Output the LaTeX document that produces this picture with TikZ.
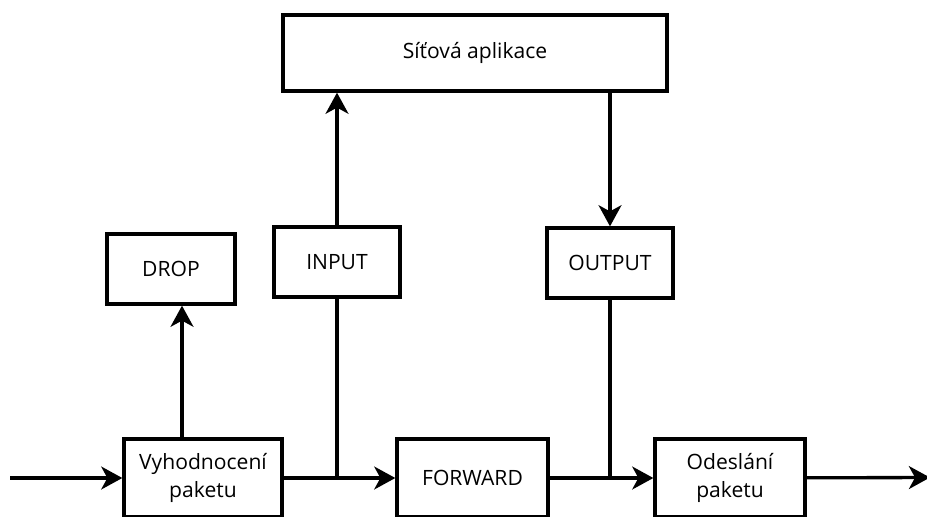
\documentclass[tikz,border=0pt]{standalone}
\usepackage{fontspec}
\setmainfont{Open Sans}
\usetikzlibrary{arrows.meta}

\begin{document}
\begin{tikzpicture}[>={Stealth[length=12pt,width=13pt,inset=3.5pt]}, line width=1.9pt,
  box/.style={draw, rectangle, align=center, inner sep=2pt, font=\fontsize{12}{15.5}\selectfont}]
\clip (0,0) rectangle (18.54,10.32);
\useasboundingbox (0,0) rectangle (18.54,10.32);

\node[box, minimum width=7.68cm, minimum height=1.52cm] (app) at (9.5,9.26) {Síťová aplikace};
\node[box, minimum width=2.56cm, minimum height=1.4cm] (drop) at (3.42,4.94) {DROP};
\node[box, minimum width=2.52cm, minimum height=1.4cm] (input) at (6.74,5.08) {INPUT};
\node[box, minimum width=2.52cm, minimum height=1.4cm] (output) at (12.2,5.06) {OUTPUT};

\node[box, minimum width=3.16cm, minimum height=1.56cm] (eval) at (4.06,0.76) {Vyhodnocení\\paketu};
\node[box, minimum width=3.02cm, minimum height=1.56cm] (fwd) at (9.45,0.76) {FORWARD};
\node[box, minimum width=3.0cm, minimum height=1.56cm] (send) at (14.6,0.76) {Odeslání\\paketu};

\coordinate (in) at (0.2,0.76);
\coordinate (out) at (18.6,0.77);

\draw[->] (in) -- (eval);
\draw[->] (eval) -- (fwd);
\draw[->] (fwd) -- (send);
\draw[->] (send) -- (out);

\draw[->] ([xshift=0.22cm]drop.south |- eval.north) -- ([xshift=0.22cm]drop.south);
\draw (input.south) -- (input.south |- eval.east);
\draw[->] (input.north) -- (input.north |- app.south);
\draw[->] (output.north |- app.south) -- (output.north);
\draw (output.south) -- (output.south |- fwd.east);
\end{tikzpicture}
\end{document}
